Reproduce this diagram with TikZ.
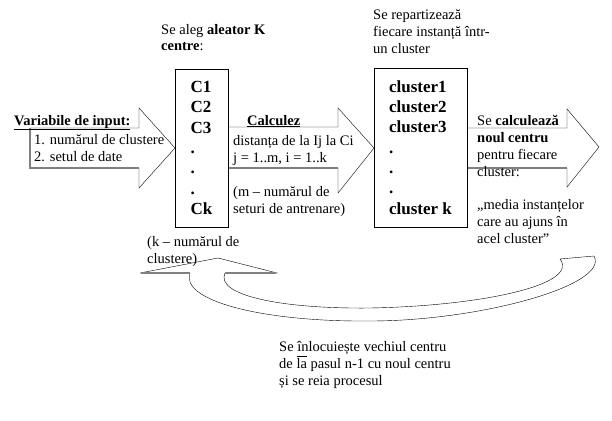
\documentclass[tikz,border=0pt]{standalone}
\usepackage{fontspec}
\setmainfont{Liberation Serif}
\usepackage{tikz}

\begin{document}
\begin{tikzpicture}[x=1pt,y=-1pt,
  txt/.style={anchor=base west, inner sep=0pt, align=left, font=\fontsize{14.5}{17}\selectfont},
  box/.style={draw, thin, align=left, inner sep=0pt, font=\fontsize{17}{20.3}\selectfont\bfseries},
  blockarrow/.style={draw, thin, fill=white, line join=miter},
  shadowline/.style={draw=gray, line width=1.3pt}]
\useasboundingbox (0,0) rectangle (612,420);

% block arrows
\draw[blockarrow] (30,128) -- (139,128) -- (139,108) -- (175,148) -- (139,188) -- (139,168) -- (30,168) -- cycle;
\draw[shadowline] (30,128) -- (30,168) -- (139,168);
\draw[blockarrow] (228,127) -- (338,127) -- (338,108) -- (374,148) -- (338,193) -- (338,168) -- (228,168) -- cycle;
\draw[shadowline] (228,168) -- (338,168);
\coordinate (tip3) at (599,147);
\draw[blockarrow] (467,128) -- (567,128) -- (567,109) -- (tip3) -- (567,187) -- (567,168) -- (467,168) -- cycle;
\draw[shadowline] (467,168) -- (567,168);

% the two boxes
\node[box, fill=white, minimum width=53pt, minimum height=158pt] (centre) at (201.5,148) {C1\\C2\\C3\\.\\.\\.\\Ck};
\node[box, fill=white, minimum width=93pt, minimum height=159pt] (clusters) at (420.5,147.5) {cluster1\\cluster2\\cluster3\\.\\.\\.\\cluster k};

% curved arrow back
\draw[thin, line join=miter] (190,273) -- (140,273) -- (218,258) -- (277,273) -- (225,273)
  .. controls (215,295) and (280,309) .. (370,308)
  .. controls (480,306) and (580,285) .. (560,259) -- (594,256)
  .. controls (610,285) and (480,321) .. (370,321)
  .. controls (260,322) and (180,300) .. (190,273);
\draw[shadowline] (141,273) -- (190,273);
\draw[shadowline] (225,273) -- (276,273);

% texts (placed at the baseline of their last line)
\node[txt] (alege) at (161,51) {Se aleg \textbf{aleator K}\\\textbf{centre}:};
\node[txt] (repart) at (373,53) {Se repartizează\\fiecare instanță într-\\un cluster};
\node[txt] (input) at (14,125) {\underline{\textbf{Variabile de input:}}};
\node[txt] (inputlist) at (34,161) {1. numărul de clustere\\2. setul de date};
\node[txt] (calc) at (247,125) {\underline{\textbf{Calculez}}};
\node[txt] (dist) at (233,162) {distanța de la Ij la Ci\\j = 1..m, i = 1..k};
\node[txt] (mnote) at (233,213) {(m – numărul de\\seturi de antrenare)};
\node[txt] (knote) at (147,263) {(k – numărul de\\clustere)};
\node[txt] (noucentru) at (477,176) {Se \textbf{calculează}\\\textbf{noul centru}\\pentru fiecare\\cluster:};
\node[txt] (media) at (477,243) {„media instanțelor\\care au ajuns în\\acel cluster”};
\node[txt] (reia) at (279,385) {Se înlocuiește vechiul centru\\de $\overline{\mbox{la}}$ pasul n-1 cu noul centru\\și se reia procesul};
\end{tikzpicture}
\end{document}
